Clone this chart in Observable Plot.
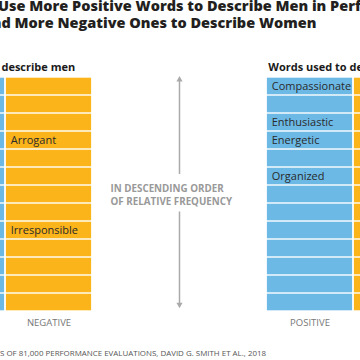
<!DOCTYPE html>
<html>
<head>
<meta charset="utf-8">
<script src="https://cdn.jsdelivr.net/npm/d3@7"></script>
<script src="https://cdn.jsdelivr.net/npm/@observablehq/plot@0.6"></script>
<style>
  html, body { margin: 0; padding: 0; background: #fff; overflow: hidden; width: 360px; height: 360px; }
  #wrap { position: relative; width: 360px; height: 360px; overflow: hidden; font-family: "Open Sans", sans-serif; }
  .line { position: absolute; white-space: nowrap; line-height: 1; }
  .title { font-weight: 800; font-size: 15px; color: #231f20; }
  .foot { font-size: 7.5px; color: #555; }
  #chart { position: absolute; left: 0; top: 40px; width: 360px; height: 300px; overflow: hidden; }
  #chart svg { overflow: hidden; }
</style>
</head>
<body>
<div id="wrap">
  <div class="line title" id="t1"><span class="pre">We </span><span class="vis">Use More Positive Words to Describe Men in Performance Reviews,</span></div>
  <div class="line title" id="t2"><span class="pre">an</span><span class="vis">d More Negative Ones to Describe Women</span></div>
  <div id="chart"></div>
  <div class="line foot" id="f1"><span class="pre">SOURCE: ANALYSI</span><span class="vis">S OF 81,000 PERFORMANCE EVALUATIONS, DAVID G. SMITH ET AL., 2018</span></div>
</div>
<script>
// ---------- data ----------
const ranks = [1, 2, 3, 4, 5, 6, 7, 8, 9, 10, 11, 12, 13];
const columns = ["men-positive", "men-negative", "women-positive", "women-negative"];
const columnTone = ["positive", "negative", "positive", "negative"];
const toneLabels = ["POSITIVE", "NEGATIVE", "POSITIVE", "NEGATIVE"];
const panelColumns = ["men-positive", "women-positive"];
const panelTitles = ["Words used to describe men", "Words used to describe women"];
const menPositiveWords = ["", "", "", "", "", "", "", "", "", "", "", "", ""];
const menNegativeWords = ["", "", "", "Arrogant", "", "", "", "", "Irresponsible", "", "", "", ""];
const womenPositiveWords = ["Compassionate", "", "Enthusiastic", "Energetic", "", "Organized", "", "", "", "", "", "", ""];
const womenNegativeWords = ["", "", "", "", "", "", "", "", "", "", "", "", ""];
const centerNote = ["IN DESCENDING ORDER\nOF RELATIVE FREQUENCY"];

// ---------- tables ----------
const wordsByColumn = [menPositiveWords, menNegativeWords, womenPositiveWords, womenNegativeWords];
const cells = columns.flatMap((c, j) => ranks.map((r, i) => ({column: c, tone: columnTone[j], rank: r, word: wordsByColumn[j][i]})));
const labeled = cells.filter(d => d.word);
const toneRows = columns.map((c, j) => ({column: c, label: toneLabels[j]}));
const panels = panelColumns.map((c, j) => ({column: c, title: panelTitles[j]}));

const xDomain = ["men-positive", "men-negative", "gap-a", "gap-b", "women-positive", "women-negative"];
const xRange = [-84, 441];
const step = (xRange[1] - xRange[0]) / xDomain.length;
const yDomain = ["head", ...ranks, "foot"];

const plot = Plot.plot({
  width: 360,
  height: 300,
  marginLeft: 0, marginRight: 2, marginTop: 0, marginBottom: 0,
  style: {fontFamily: "Open Sans, sans-serif", background: "#fff", overflow: "hidden"},
  x: {type: "band", domain: xDomain, range: xRange, padding: 0, axis: null},
  y: {type: "band", domain: yDomain, range: [11.73, 296.27], padding: 0, axis: null},
  color: {domain: ["positive", "negative"], range: ["#6cb9e6", "#fbb51b"]},
  marks: [
    Plot.cell(cells, {x: "column", y: "rank", fill: "tone", insetLeft: 0.9, insetRight: 0.9, insetTop: 0.7, insetBottom: 0.7}),
    Plot.text(labeled, {x: "column", y: "rank", text: "word", textAnchor: "start", dx: -step / 2 + 5.5, fontSize: 11, fill: "#2a2a2a"}),
    Plot.text(panels, {x: "column", y: () => "head", text: "title", textAnchor: "start", dx: -step / 2 + 2, dy: -1.5, fontSize: 11, fontWeight: "bold", fill: "#1a1a1a"}),
    Plot.text(toneRows, {x: "column", y: () => "foot", text: "label", dy: 2.5, fontSize: 9.5, fill: "#777"}),
    Plot.ruleX(centerNote, {x: null, y1: 1, y2: 6, insetTop: 4, insetBottom: 11, stroke: "#aaa", strokeWidth: 1.5}),
    Plot.ruleX(centerNote, {x: null, y1: 8, y2: 13, insetTop: 8.5, insetBottom: 7, stroke: "#aaa", strokeWidth: 1.5}),
    Plot.dot(centerNote, {x: null, y: () => 1, symbol: "triangle", r: 2.3, fill: "#aaa", stroke: null, dy: -6.8}),
    Plot.dot(centerNote, {x: null, y: () => 13, symbol: "triangle", r: 2.3, fill: "#aaa", stroke: null, rotate: 180, dy: 2.1}),
    Plot.text(centerNote, {text: d => d, y: () => 7, textAnchor: "start", dx: -69, fontSize: 9.8, letterSpacing: "0.6px", fontWeight: "bold", fill: "#999", lineHeight: 1.36})
  ]
});
document.getElementById("chart").appendChild(plot);

// ---------- place cropped title / source lines ----------
function place(id, left, baseline, width, fontSize) {
  const el = document.getElementById(id);
  const pre = el.querySelector(".pre"), vis = el.querySelector(".vis");
  let fs = fontSize || parseFloat(getComputedStyle(el).fontSize);
  el.style.fontSize = fs + "px";
  if (width) {
    const w = vis.getBoundingClientRect().width;
    fs = fs * width / w;
    el.style.fontSize = fs + "px";
  }
  el.style.left = (left - pre.getBoundingClientRect().width) + "px";
  el.style.top = (baseline - 0.888 * fs) + "px";
  return fs;
}
const titleSize = place("t2", 1.5, 29.3, 315);
place("t1", -2, 12.3, null, titleSize);
place("f1", 0, 356.7, 266.5);
</script>
</body>
</html>
